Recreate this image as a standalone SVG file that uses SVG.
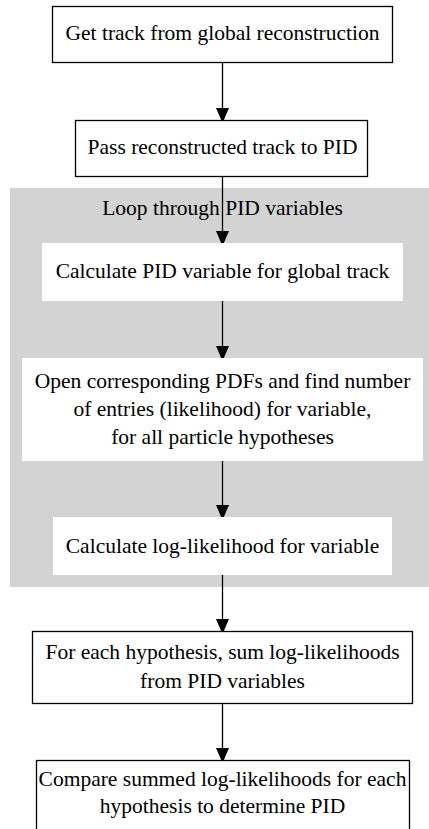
<svg xmlns="http://www.w3.org/2000/svg" width="429" height="829" viewBox="0 0 429 829">
<defs>
<style>
.n{fill:#fff;stroke:#000;stroke-width:1.3}
.w{fill:#fff;stroke:none}
text{font-family:'Liberation Serif',serif;font-size:21.5px;fill:#000;text-anchor:middle}
.e{stroke:#000;stroke-width:1.3;fill:none;marker-end:url(#ah)}
</style>
<marker id="ah" viewBox="0 0 12 15" refX="12" refY="6.5" markerWidth="12" markerHeight="15" markerUnits="userSpaceOnUse" orient="auto">
<path d="M0,0 L15,6.5 L0,13 Z" fill="#000"/>
</marker>
</defs>
<rect id="cluster" x="10" y="188" width="419" height="399" fill="#d3d3d3"/>
<text x="222.5" y="215">Loop through PID variables</text>
<g id="n1"><rect class="n" x="52.5" y="6.5" width="340" height="56"/><text x="222.5" y="40">Get track from global reconstruction</text></g>
<g id="n2"><rect class="n" x="75.5" y="120.5" width="292" height="56"/><text x="222.5" y="154">Pass reconstructed track to PID</text></g>
<g id="n3"><rect class="w" x="42" y="243" width="361" height="58"/><text x="222.5" y="278">Calculate PID variable for global track</text></g>
<g id="n4"><rect class="w" x="22" y="358" width="401" height="103"/><text x="222.5" y="388">Open corresponding PDFs and find number</text><text x="222.5" y="416">of entries (likelihood) for variable,</text><text x="222.5" y="444">for all particle hypotheses</text></g>
<g id="n5"><rect class="w" x="53" y="517" width="339" height="58"/><text x="222.5" y="553">Calculate log-likelihood for variable</text></g>
<g id="n6"><rect class="n" x="32.5" y="631.5" width="380" height="72"/><text x="222.5" y="659">For each hypothesis, sum log-likelihoods</text><text x="222.5" y="688">from PID variables</text></g>
<g id="n7"><rect class="n" x="36.5" y="760.5" width="373" height="80"/><text x="222.5" y="786">Compare summed log-likelihoods for each</text><text x="222.5" y="813">hypothesis to determine PID</text></g>
<g id="edges">
<line class="e" x1="222.5" y1="63" x2="222.5" y2="120"/>
<line class="e" x1="222.5" y1="177" x2="222.5" y2="243"/>
<line class="e" x1="222.5" y1="301" x2="222.5" y2="358"/>
<line class="e" x1="222.5" y1="461" x2="222.5" y2="517"/>
<line class="e" x1="222.5" y1="575" x2="222.5" y2="631"/>
<line class="e" x1="222.5" y1="704" x2="222.5" y2="760"/>
</g>
</svg>
